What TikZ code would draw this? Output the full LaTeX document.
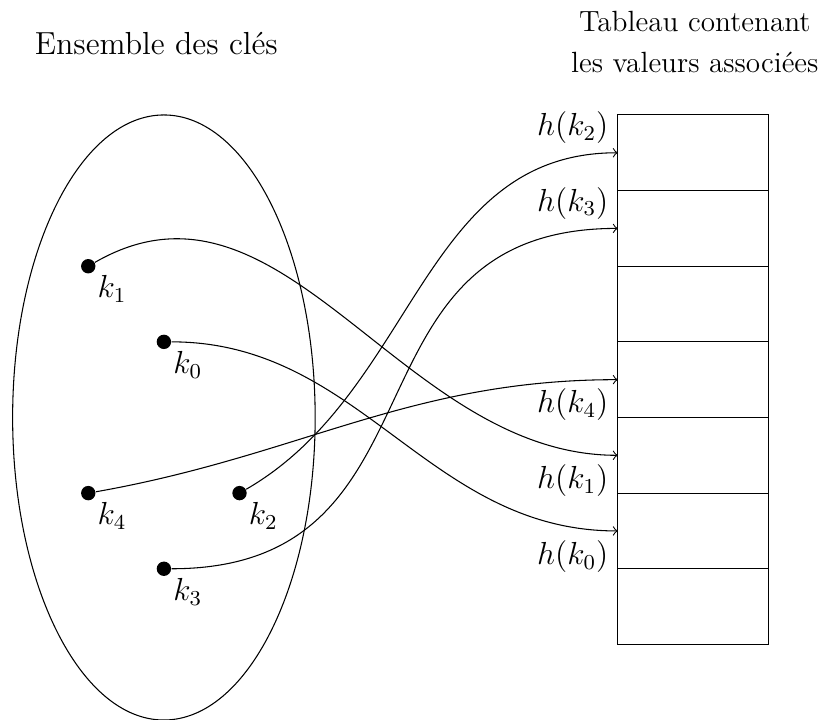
\documentclass[tikz,border=0pt]{standalone}
\usepackage{fontspec}
\usetikzlibrary{shapes.geometric}
\begin{document}
\begin{tikzpicture}[font=\large, >=to,
  dot/.style={circle,fill=black,inner sep=0pt,minimum size=0.19cm},
  cell/.style={draw,minimum width=2cm,minimum height=1cm,inner sep=0pt,outer sep=0pt},
  keyset/.style={draw,ellipse,minimum width=4cm,minimum height=8cm,inner sep=0pt,outer sep=0pt}]
\useasboundingbox (-1.167,-3.987) rectangle (9.675,5.52);
% titles
\node (t1) at (0.9,4.94) {Ensemble des clés};
\node[align=center,font=\fontsize{11}{15.7}\selectfont] (t2) at (8.02,4.965) {Tableau contenant\\les valeurs associées};
% set of keys
\node[keyset] (set) at (1,0) {};
% table
\foreach \i in {1,...,7} {
  \node[cell] (c\i) at (8,4.5-\i) {};
}
% keys
\node[dot] (k1) at (0,2) {};
\node[dot] (k0) at (1,1) {};
\node[dot] (k4) at (0,-1) {};
\node[dot] (k2) at (2,-1) {};
\node[dot] (k3) at (1,-2) {};
\node[below right] (l1) at (k1.center) {$k_1$};
\node[below right] (l0) at (k0.center) {$k_0$};
\node[below right] (l4) at (k4.center) {$k_4$};
\node[below right] (l2) at (k2.center) {$k_2$};
\node[below right] (l3) at (k3.center) {$k_3$};
% arrows
\draw[->] (k2) to[out=30,in=180] (c1.west);
\draw[->] (k3) to[out=0,in=180,looseness=1.3] (c2.west);
\draw[->] (k4) to[out=10,in=180] (c4.west);
\draw[->] (k1) to[out=30,in=180] (c5.west);
\draw[->] (k0) to[out=0,in=180] (c6.west);
% hash labels
\node[above left] (h2) at (c1.west) {$h(k_2)$};
\node[above left] (h3) at (c2.west) {$h(k_3)$};
\node[below left] (h4) at (c4.west) {$h(k_4)$};
\node[below left] (h1) at (c5.west) {$h(k_1)$};
\node[below left] (h0) at (c6.west) {$h(k_0)$};
\end{tikzpicture}
\end{document}
